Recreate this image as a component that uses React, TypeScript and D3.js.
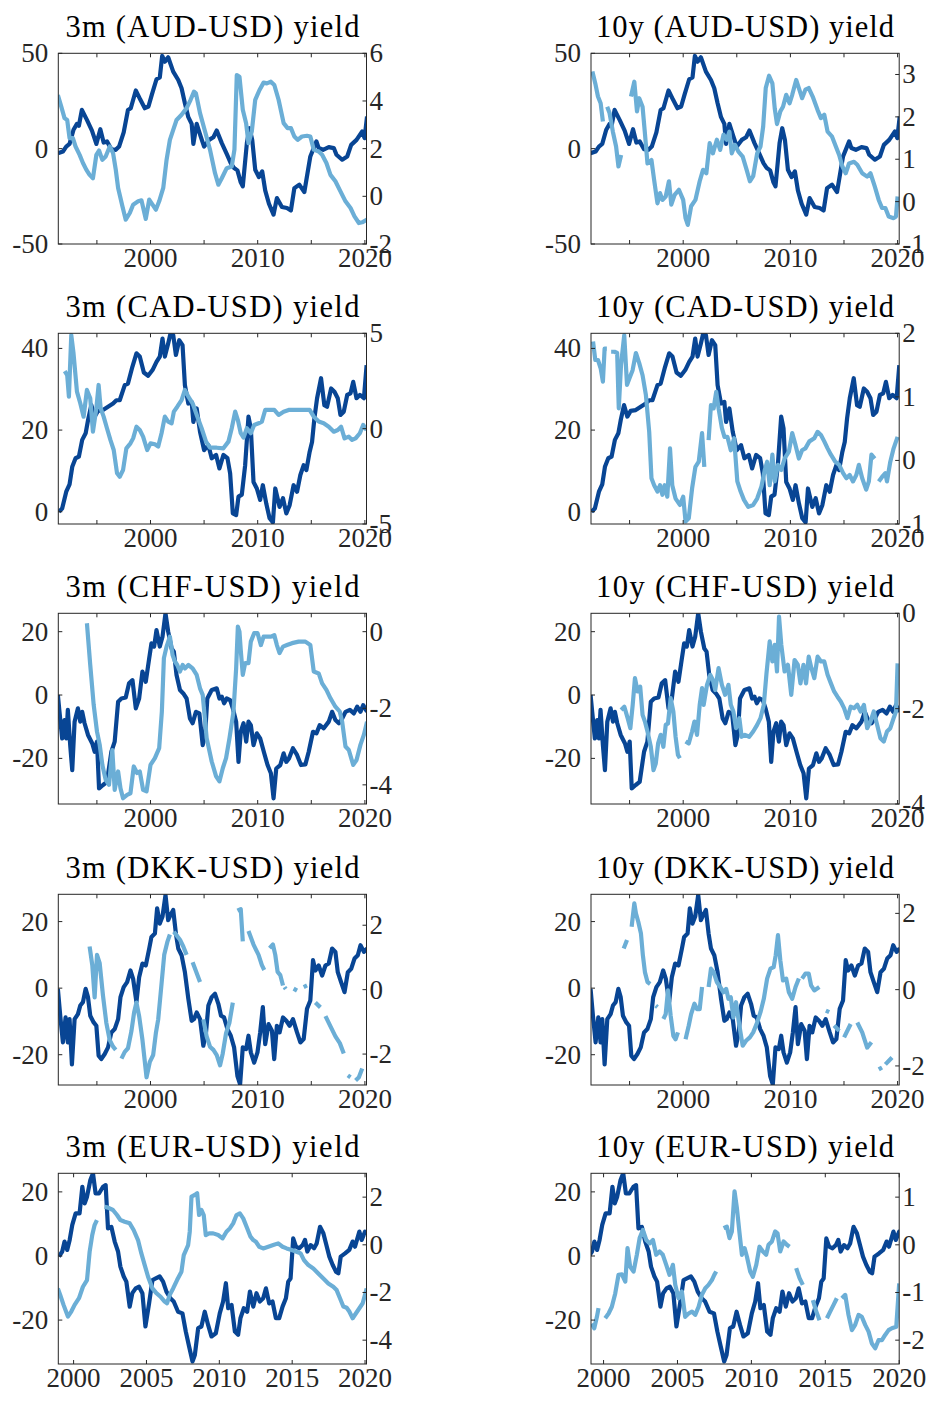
import React from 'react';
import * as d3 from 'd3';

type Pt = [number, number];
const BRK: Pt = [NaN, NaN];

// ---------- exchange-rate (left axis) series, shared by 3m and 10y panels ----------
const audFx: Pt[] = [[1991.36,-2.4],[1991.83,-1.5],[1992.14,1.1],[1992.45,2.5],[1992.82,9.9],[1993.14,13],[1993.32,12],[1993.6,20.3],[1994.07,15.1],[1994.54,9.5],[1994.95,2.5],[1995.32,10.2],[1995.63,3.2],[1995.94,3.8],[1996.35,-0.3],[1996.76,-0.6],[1997.07,1.1],[1997.5,8.5],[1997.9,20.3],[1998.16,21.2],[1998.63,30.5],[1999.06,25.6],[1999.47,21.2],[1999.81,22.1],[2000.12,28.2],[2000.56,36.4],[2000.87,37.4],[2001.09,48.6],[2001.34,45.6],[2001.65,47.9],[2002.12,40.4],[2002.59,36],[2002.9,31.7],[2003.21,23.8],[2003.53,16.5],[2003.84,13],[2004,2.5],[2004.31,13],[2004.68,6.4],[2005,1.1],[2005.46,4.6],[2005.87,6],[2006.18,9.5],[2006.65,2.9],[2007.11,-2.7],[2007.49,-7.6],[2007.8,-10.2],[2008.11,-11.4],[2008.42,-17.7],[2008.61,-19.8],[2008.99,2.9],[2009.24,10.7],[2009.49,4.6],[2009.77,-11.1],[2010.11,-14.9],[2010.42,-11.9],[2010.7,-21.9],[2011.05,-28.9],[2011.48,-34.6],[2011.79,-25.9],[2012.26,-30.6],[2012.73,-31.1],[2013.1,-32.4],[2013.42,-20.7],[2013.88,-18.9],[2014.35,-22.8],[2014.91,-4.1],[2015.48,3.8],[2015.69,0.3],[2016.1,-0.6],[2016.63,0.8],[2017.1,0.3],[2017.35,-3.2],[2017.88,-5.8],[2018.35,-4.1],[2018.72,2],[2019.22,4.6],[2019.75,9],[2019.97,5.5],[2020.2,16.8]];

const cadFx: Pt[] = [[1991.45,0],[1991.76,0.8],[1992.14,4.9],[1992.45,6.7],[1992.7,11],[1993.01,13.1],[1993.32,13.5],[1993.63,17.6],[1993.95,19.2],[1994.17,22.4],[1994.48,26.1],[1994.79,23.3],[1995.1,24.7],[1995.57,24.9],[1996.04,25.7],[1996.51,26.5],[1996.82,27.3],[1997.13,27.3],[1997.6,31],[1997.9,31.4],[1998.31,35.5],[1998.69,38.8],[1999,38],[1999.38,34.1],[1999.78,33.3],[2000.19,34.7],[2000.56,36.7],[2000.87,38],[2001.12,42.4],[2001.34,38],[2001.65,41.2],[2001.87,43.7],[2002.12,43.3],[2002.37,38.4],[2002.68,42],[2002.99,40.8],[2003.21,31],[2003.53,26.5],[2003.84,26.9],[2004,22],[2004.31,25.3],[2004.62,19.6],[2005,15.1],[2005.4,16.3],[2005.71,13.1],[2006.12,13.9],[2006.43,10.6],[2006.8,13.9],[2007.18,13.1],[2007.43,9.4],[2007.68,-0.4],[2007.99,-0.8],[2008.21,3.7],[2008.52,4.2],[2008.83,11.4],[2009.14,23.3],[2009.36,20.4],[2009.61,7.3],[2009.92,5.7],[2010.23,2.9],[2010.48,6.5],[2010.8,2],[2011.11,-1.6],[2011.42,-2.6],[2011.64,5.7],[2012.04,1.2],[2012.36,3.3],[2012.67,-0.4],[2012.98,1.6],[2013.35,6.5],[2013.67,4.9],[2013.98,9],[2014.29,11.4],[2014.54,10.2],[2014.85,14.7],[2015.07,17.1],[2015.29,22.9],[2015.54,27.8],[2015.91,32.7],[2016.22,26.1],[2016.47,25.7],[2016.85,30.2],[2017.16,29.4],[2017.47,27.8],[2017.72,23.7],[2018.03,24.5],[2018.35,28.6],[2018.66,29],[2018.91,31.8],[2019.22,27.8],[2019.53,28.6],[2019.91,27.8],[2020.16,35.9]];

const chfFx: Pt[] = [[1991.36,0],[1991.51,-5.3],[1991.76,-13.7],[1991.98,-7.9],[1992.14,-13.7],[1992.29,-4.7],[1992.51,-15.8],[1992.7,-23.7],[1992.92,-8.4],[1993.23,-4.2],[1993.45,-8.4],[1993.63,-5.3],[1993.85,-8.9],[1994.17,-12.6],[1994.57,-15.3],[1994.79,-17.9],[1995.01,-14.7],[1995.2,-29.5],[1995.57,-28.4],[1995.94,-27.4],[1996.35,-17.9],[1996.66,-14.7],[1996.98,-2.1],[1997.29,-1.1],[1997.69,-0.8],[1998,3.7],[1998.32,4.7],[1998.63,-4.2],[1998.94,-1.1],[1999.25,7.4],[1999.56,4.2],[1999.88,11.6],[2000.09,16.3],[2000.34,15.3],[2000.56,20.5],[2000.87,15.3],[2001.12,18.4],[2001.4,25.8],[2001.65,20],[2001.97,14.7],[2002.18,13.7],[2002.43,6.3],[2002.75,1.6],[2003.06,0.5],[2003.37,-1.1],[2003.68,-7.4],[2003.93,-8.9],[2004.24,-5.3],[2004.56,-5.8],[2004.87,-15.8],[2005.09,-12.6],[2005.3,-1.1],[2005.71,1.6],[2006.18,2.1],[2006.43,-1.1],[2006.65,-0.5],[2006.87,-2.6],[2007.11,-1.1],[2007.43,-1.6],[2007.68,-4.2],[2007.99,-8.4],[2008.21,-21.1],[2008.42,-11.6],[2008.68,-8.9],[2008.93,-14.7],[2009.14,-8.4],[2009.36,-9.5],[2009.61,-15.8],[2009.92,-12.1],[2010.23,-13.7],[2010.61,-18.4],[2010.92,-22.1],[2011.23,-24.7],[2011.48,-32.6],[2011.73,-23.2],[2012.11,-22.1],[2012.42,-18.4],[2012.67,-21.1],[2012.92,-20],[2013.29,-16.8],[2013.67,-18.9],[2014.04,-22.1],[2014.45,-21.9],[2014.76,-17.9],[2015.16,-11.6],[2015.48,-12.1],[2015.79,-9.5],[2016.16,-10.5],[2016.63,-8.4],[2016.94,-5.3],[2017.25,-7.9],[2017.57,-8.9],[2017.88,-7.4],[2018.19,-5.3],[2018.6,-4.7],[2018.97,-5.8],[2019.28,-3.7],[2019.59,-5.3],[2019.84,-3.2],[2020.2,-5.3]];

const dkkFx: Pt[] = [[1991.36,-0.2],[1991.58,-8.3],[1991.83,-16.3],[1992.08,-8.8],[1992.29,-16.3],[1992.45,-9.3],[1992.67,-22.9],[1992.92,-9.3],[1993.23,-7.8],[1993.45,-5.2],[1993.7,-4.2],[1993.95,-0.2],[1994.17,-2.7],[1994.38,-8.3],[1994.7,-10.3],[1994.95,-11.3],[1995.16,-20.3],[1995.41,-21.3],[1995.73,-19.8],[1996.04,-17.8],[1996.35,-13.3],[1996.66,-12.3],[1996.98,-9.3],[1997.2,-2.7],[1997.5,0.3],[1997.82,1.8],[1998.13,5.3],[1998.38,2.8],[1998.69,-4.2],[1998.94,3.3],[1999.25,7.4],[1999.56,6.8],[1999.88,11.9],[2000.09,15.4],[2000.41,16.4],[2000.62,24],[2000.87,19.4],[2001.12,21.5],[2001.4,28],[2001.65,20.4],[2001.87,22],[2002.12,23.5],[2002.37,16.4],[2002.59,11.9],[2002.9,9.9],[2003.21,4.8],[2003.53,-3.2],[2003.84,-9.8],[2004.06,-9.3],[2004.31,-7.3],[2004.62,-9.3],[2004.93,-17.3],[2005.18,-13.3],[2005.4,-5.2],[2005.71,-2.7],[2006.02,-1.7],[2006.33,-4.7],[2006.58,-8.3],[2006.86,-8.8],[2007.18,-12.3],[2007.49,-14.3],[2007.8,-17.8],[2008.11,-26.4],[2008.36,-28.9],[2008.61,-17.8],[2008.92,-18.3],[2009.14,-14.3],[2009.36,-19.3],[2009.67,-22.4],[2009.98,-19.3],[2010.23,-13.3],[2010.48,-5.7],[2010.7,-16.8],[2011.01,-10.8],[2011.33,-12.8],[2011.54,-21.3],[2011.79,-11.3],[2012.04,-13.3],[2012.36,-8.8],[2012.67,-9.8],[2012.98,-11.3],[2013.29,-9.3],[2013.67,-13.3],[2013.98,-16.3],[2014.29,-15.3],[2014.6,-6.2],[2014.91,-3.7],[2015.16,8.4],[2015.38,5.3],[2015.69,6.8],[2016.01,3.8],[2016.32,6.8],[2016.63,7.4],[2016.94,11.9],[2017.25,10.9],[2017.47,4.8],[2017.78,1.8],[2018.1,-1.2],[2018.41,4.8],[2018.72,5.8],[2019.03,8.9],[2019.34,9.9],[2019.59,12.9],[2019.91,10.9],[2020.2,11.9]];

const eurFx: Pt[] = [[1998.99,-0.2],[1999.22,1.4],[1999.38,4.5],[1999.56,1.9],[1999.73,5],[1999.91,9.7],[2000.14,13.3],[2000.41,13.3],[2000.6,21.6],[2000.76,16.4],[2000.92,18.5],[2001.15,23.7],[2001.33,25.8],[2001.51,19.5],[2001.74,19.5],[2002.02,21.6],[2002.2,22.1],[2002.36,8.6],[2002.59,9.1],[2002.82,4.5],[2003.05,1.4],[2003.21,-3.3],[2003.44,-6.4],[2003.62,-8],[2003.85,-15.8],[2004.03,-11.6],[2004.26,-10.1],[2004.49,-9.6],[2004.72,-11.6],[2004.93,-22],[2005.18,-14.8],[2005.41,-7.5],[2005.64,-7],[2005.91,-6.4],[2006.14,-8],[2006.37,-11.1],[2006.64,-13.2],[2006.87,-14.2],[2007.17,-17.4],[2007.47,-17.9],[2007.7,-23.6],[2007.93,-28.3],[2008.16,-32.9],[2008.32,-30.9],[2008.55,-22.5],[2008.77,-22],[2009,-17.4],[2009.23,-21.5],[2009.46,-25.1],[2009.76,-24.1],[2010.03,-17.9],[2010.26,-14.2],[2010.45,-8.5],[2010.61,-16.3],[2010.84,-15.3],[2011.07,-23.6],[2011.29,-24.6],[2011.45,-19.4],[2011.68,-16.3],[2011.91,-17.4],[2012.1,-11.1],[2012.33,-15.8],[2012.55,-11.6],[2012.78,-14.2],[2013.01,-13.2],[2013.2,-10.1],[2013.42,-14.8],[2013.65,-14.2],[2013.88,-19.4],[2014.11,-19.4],[2014.34,-15.8],[2014.57,-13.2],[2014.73,-8],[2014.89,-7],[2015.07,5.5],[2015.26,2.9],[2015.49,2.4],[2015.72,3.4],[2015.88,5],[2016.04,1.4],[2016.27,3.4],[2016.5,2.4],[2016.68,3.9],[2016.91,9.1],[2017.14,7.1],[2017.32,3.9],[2017.55,-0.2],[2017.78,-2.8],[2018.01,-4.9],[2018.17,-5.4],[2018.33,-0.2],[2018.63,0.8],[2018.92,1.9],[2019.15,4.5],[2019.31,2.9],[2019.61,7.6],[2019.77,5],[2020,7.6],[2020.11,6.5]];

// ---------- yield differentials (right axis) ----------
const aud3m: Pt[] = [[1991.36,4.25],[1991.67,3.77],[1991.98,3.28],[1992.23,3.2],[1992.45,2.44],[1992.76,2.44],[1993.01,2.09],[1993.39,1.74],[1993.7,1.4],[1994.01,1.12],[1994.32,0.9],[1994.63,0.76],[1994.95,1.74],[1995.2,1.92],[1995.51,1.53],[1995.82,1.67],[1996.2,2.09],[1996.51,1.81],[1996.76,1.12],[1996.98,0.35],[1997.38,-0.42],[1997.69,-0.98],[1998.07,-0.7],[1998.38,-0.35],[1998.85,-0.21],[1999.16,-0.17],[1999.56,-0.95],[1999.88,-0.14],[2000.19,-0.35],[2000.5,-0.56],[2000.81,-0.21],[2001.19,0.35],[2001.5,1.53],[2001.81,2.37],[2002.12,2.79],[2002.43,3.2],[2002.9,3.42],[2003.37,3.7],[2003.74,4.05],[2004.06,4.39],[2004.24,4.32],[2004.62,3.49],[2005.09,2.72],[2005.55,1.96],[2006.02,0.97],[2006.33,0.49],[2006.65,0.76],[2007.11,1.18],[2007.58,1.25],[2007.83,1.96],[2008.05,5.09],[2008.3,5.02],[2008.61,3.63],[2008.92,3.07],[2009.14,2.23],[2009.45,2.72],[2009.77,4.05],[2010.17,4.46],[2010.55,4.77],[2010.86,4.74],[2011.23,4.81],[2011.55,4.67],[2011.95,4.05],[2012.42,3.07],[2012.79,2.86],[2013.1,2.86],[2013.42,2.51],[2013.73,2.37],[2014.13,2.51],[2014.6,2.54],[2014.91,2.51],[2015.23,1.96],[2015.69,1.88],[2016.01,1.74],[2016.41,1.4],[2016.79,0.9],[2017.25,0.63],[2017.72,0.21],[2018.19,-0.21],[2018.66,-0.49],[2019.03,-0.84],[2019.44,-1.12],[2019.75,-1.09],[2020.2,-0.98]];

const aud10y: Pt[] = [[1991.53,3.07],[1991.8,2.79],[1992.05,2.48],[1992.3,2.32],[1992.51,1.89],BRK,[1992.91,2.24],[1993.13,2.09],[1993.44,1.65],[1993.74,1.3],[1993.96,0.83],[1994.21,1.1],BRK,[1995.13,2.48],[1995.44,2.83],[1995.69,2.13],[1995.9,2.44],[1996.21,2.24],[1996.43,1.61],[1996.67,0.9],[1997.04,0.98],[1997.29,0.51],[1997.6,-0.04],[1997.84,0.2],[1998.06,0.04],[1998.37,0.12],[1998.67,0.48],[1998.89,-0.07],[1999.2,0.16],[1999.6,0.28],[2000,0.04],[2000.22,-0.39],[2000.43,-0.55],[2000.74,-0.11],[2001.14,0.04],[2001.54,0.48],[2001.85,0.75],[2002.16,0.67],[2002.47,1.38],[2002.77,1.14],[2003.14,1.46],[2003.45,1.22],[2003.76,1.58],[2004.07,1.46],[2004.31,1.65],[2004.53,1.14],[2004.84,1.34],[2005.15,1.18],[2005.55,1.06],[2005.92,0.75],[2006.22,0.48],[2006.53,0.6],[2006.9,1.14],[2007.21,1.3],[2007.46,1.77],[2007.7,2.68],[2008.01,2.97],[2008.32,2.79],[2008.54,2.2],[2008.75,1.83],[2009.06,2.13],[2009.31,2.24],[2009.61,2.52],[2009.92,2.32],[2010.17,2.52],[2010.54,2.87],[2010.79,2.68],[2011.09,2.44],[2011.4,2.64],[2011.71,2.68],[2012.08,2.48],[2012.54,2.16],[2012.85,1.97],[2013.16,2.05],[2013.47,1.65],[2013.87,1.54],[2014.24,1.3],[2014.55,1.1],[2014.85,0.83],[2015.16,0.67],[2015.47,0.9],[2015.93,0.94],[2016.24,0.87],[2016.7,0.67],[2017.16,0.59],[2017.47,0.67],[2017.87,0.36],[2018.24,0.04],[2018.55,-0.15],[2018.86,-0.15],[2019.17,-0.35],[2019.63,-0.39],[2019.85,-0.35],[2020,0.12]];

const cad3m: Pt[] = [[1992,3.02],[1992.23,2.81],[1992.39,1.68],[1992.61,4.91],[1992.82,3.95],[1993.14,1.94],[1993.45,1.33],[1993.76,0.63],[1994.07,2.03],[1994.38,1.59],[1994.63,-0.16],[1994.95,1.07],[1995.16,2.29],[1995.35,1.07],[1995.63,0.63],[1995.94,0.02],[1996.26,-0.59],[1996.57,-1.12],[1996.88,-2.34],[1997.13,-2.52],[1997.44,-2.17],[1997.75,-1.03],[1998.13,-0.77],[1998.38,-0.51],[1998.69,0.1],[1999,-0.07],[1999.31,-0.42],[1999.69,-1.12],[2000,-0.77],[2000.41,-0.82],[2000.72,-0.94],[2001.03,-0.24],[2001.34,0.63],[2001.65,0.37],[2001.97,0.28],[2002.18,0.89],[2002.5,1.15],[2002.9,1.5],[2003.21,2.03],[2003.53,1.68],[2003.93,1.33],[2004.31,0.72],[2004.77,0.02],[2005.18,-0.68],[2005.55,-1],[2006.18,-1],[2006.8,-1.03],[2007.27,-0.68],[2007.58,0.02],[2007.9,0.89],[2008.15,0.45],[2008.42,-0.24],[2008.68,-0.47],[2008.99,0.02],[2009.36,-0.24],[2009.67,0.19],[2010.08,0.28],[2010.39,0.37],[2010.7,0.98],[2011.11,0.98],[2011.55,0.98],[2011.95,0.72],[2012.42,0.89],[2012.89,0.98],[2013.67,0.98],[2014.29,0.98],[2014.85,0.98],[2015.23,0.63],[2015.69,0.37],[2016.16,0.28],[2016.63,0.1],[2017.1,-0.16],[2017.47,-0.07],[2017.78,0.1],[2018.1,-0.51],[2018.5,-0.42],[2018.81,-0.59],[2019.13,-0.51],[2019.53,-0.24],[2019.84,0.19],[2020.16,-0.07]];

const cad10y: Pt[] = [[1991.59,1.87],[1991.8,1.58],[1992.05,1.58],[1992.3,1.45],[1992.51,1.24],[1992.67,1.76],[1992.88,1.76],BRK,[1993.28,1.71],[1993.59,1.71],[1993.84,1.69],[1993.99,0.82],[1994.2,1.5],[1994.5,1.97],[1994.76,1.19],[1994.98,1.29],[1995.28,1.42],[1995.59,1.69],[1995.9,1.53],[1996.21,1.34],[1996.52,1.03],[1996.83,0.45],[1997.04,-0.28],[1997.29,-0.39],[1997.6,-0.49],[1997.84,-0.39],[1998.06,-0.54],[1998.27,-0.39],[1998.52,-0.57],[1998.77,0.19],[1998.98,-0.39],[1999.29,-0.6],[1999.69,-0.7],[2000,-0.57],[2000.22,-0.96],[2000.52,-0.91],[2000.83,-0.44],[2001.14,-0.1],[2001.45,-0.02],[2001.76,0.43],[2001.97,-0.1],BRK,[2002.37,0.32],[2002.59,0.87],[2002.84,0.82],[2003.08,1.08],[2003.3,0.82],[2003.61,0.51],[2003.85,0.37],[2004.13,0.37],[2004.44,0.16],[2004.75,0.35],[2005.05,-0.33],[2005.36,-0.49],[2005.67,-0.62],[2006.07,-0.73],[2006.53,-0.7],[2006.9,-0.6],[2007.3,-0.41],[2007.61,-0.15],[2007.83,-0.02],[2008.07,-0.39],[2008.32,0.09],[2008.54,-0.33],[2008.84,-0.07],[2009.15,-0.15],[2009.46,0.03],[2009.86,0.14],[2010.17,0.43],[2010.48,0.24],[2010.79,0.03],[2011.09,0.16],[2011.4,0.19],[2011.77,0.3],[2012.23,0.35],[2012.54,0.45],[2012.85,0.4],[2013.16,0.3],[2013.47,0.19],[2013.78,0.09],[2014.18,-0.02],[2014.55,-0.07],[2014.92,-0.2],[2015.22,-0.28],[2015.53,-0.23],[2015.84,-0.33],[2016.15,-0.23],[2016.39,-0.07],[2016.7,-0.28],[2017.07,-0.46],[2017.32,-0.33],[2017.56,0.09],[2017.87,0.03],BRK,[2018.24,-0.33],[2018.55,-0.26],[2018.86,-0.2],[2019.01,-0.33],[2019.32,-0.02],[2019.63,0.19],[2020,0.37]];

const chf3m: Pt[] = [[1994.07,0.22],[1994.38,-0.87],[1994.7,-1.91],[1995.01,-2.61],[1995.26,-2.95],[1995.51,-3.48],[1995.82,-3.87],[1996.13,-4],[1996.44,-3.09],[1996.66,-4.13],[1996.98,-3.65],[1997.2,-4.09],[1997.44,-4.35],[1997.82,-4.26],[1998.13,-4.22],[1998.44,-3.52],[1998.75,-3.69],[1999,-3.65],[1999.31,-4.13],[1999.63,-4.17],[2000,-3.48],[2000.41,-3.3],[2000.81,-3.04],[2001.06,-2.09],[2001.25,-0.69],[2001.5,-0.39],[2001.81,-0.13],[2002.06,-0.61],[2002.28,-0.78],[2002.5,-0.87],[2002.75,-1.04],[2003,-0.87],[2003.21,-0.96],[2003.53,-0.87],[2003.93,-0.96],[2004.31,-1.13],[2004.62,-1.48],[2004.87,-1.65],[2005.24,-2.78],[2005.71,-3.39],[2006.12,-3.78],[2006.43,-3.91],[2006.75,-3.56],[2007.05,-3.3],[2007.37,-2.78],[2007.74,-2.09],[2007.99,-0.96],[2008.15,0.13],[2008.3,0],[2008.42,-0.48],[2008.61,-1.13],[2008.83,-0.82],[2009.14,-0.82],[2009.36,-0.26],[2009.67,-0.04],[2009.99,-0.04],[2010.3,-0.35],[2010.55,-0.13],[2010.86,-0.13],[2011.23,-0.13],[2011.55,-0.09],[2011.79,-0.35],[2012.04,-0.56],[2012.36,-0.39],[2012.73,-0.35],[2013.2,-0.3],[2013.82,-0.26],[2014.45,-0.26],[2014.91,-0.35],[2015.23,-1.04],[2015.69,-1.09],[2016.01,-1.35],[2016.41,-1.52],[2016.79,-1.74],[2017.25,-1.96],[2017.66,-2.09],[2017.88,-2.35],[2018.19,-3],[2018.5,-3.09],[2018.91,-3.48],[2019.22,-3.35],[2019.59,-2.95],[2019.91,-2.69],[2020.2,-2.35]];

const chf10y: Pt[] = [[1994.21,-2.03],[1994.51,-1.96],[1994.82,-2.2],[1995.07,-2.41],[1995.29,-1.92],[1995.5,-1.36],[1995.75,-1.64],[1995.99,-1.54],[1996.21,-2.13],[1996.43,-2.27],[1996.67,-2.48],[1996.98,-2.8],[1997.23,-3.29],[1997.44,-3.15],[1997.66,-2.73],[1997.9,-2.55],[1998.15,-2.8],[1998.37,-2.34],[1998.58,-2.31],[1998.83,-1.78],[1999.08,-2.06],[1999.29,-2.59],[1999.51,-2.97],[1999.69,-3.04],BRK,[2000.22,-2.69],[2000.52,-2.73],[2000.83,-2.48],[2001.05,-2.27],[2001.29,-2.55],[2001.54,-1.92],[2001.76,-1.57],[2001.91,-1.92],[2002.22,-1.5],[2002.53,-1.29],[2002.77,-1.4],[2002.99,-1.61],[2003.3,-1.15],[2003.61,-1.5],[2003.91,-1.71],[2004.22,-1.5],[2004.44,-1.92],[2004.68,-2.06],[2004.93,-2.41],[2005.24,-2.2],[2005.45,-2.59],[2005.76,-2.55],[2006.16,-2.59],[2006.53,-2.48],[2006.9,-2.34],[2007.21,-2.2],[2007.52,-1.92],[2007.77,-1.26],[2008.07,-0.59],[2008.32,-1.01],[2008.54,-0.66],[2008.75,-1.22],[2008.94,-0.07],[2009.15,-0.66],[2009.46,-1.22],[2009.77,-1.08],[2010.08,-1.71],[2010.39,-0.98],[2010.69,-1.08],[2010.94,-1.47],[2011.22,-1.08],[2011.46,-1.47],[2011.71,-0.91],[2011.96,-1.15],[2012.23,-1.36],[2012.54,-0.91],[2012.85,-1.01],[2013.16,-1.01],[2013.47,-1.29],[2013.78,-1.47],[2014.08,-1.64],[2014.39,-1.75],[2014.7,-1.85],[2015.01,-1.99],[2015.32,-2.2],[2015.62,-1.96],[2015.93,-1.99],[2016.24,-1.92],[2016.55,-2.06],[2016.86,-1.92],[2017.16,-2.41],[2017.47,-2.27],[2017.78,-2.06],[2018.09,-2.34],[2018.4,-2.62],[2018.71,-2.69],[2019.01,-2.48],[2019.32,-2.41],[2019.63,-2.2],[2019.85,-2.06],[2020,-1.05]];

const dkk3m: Pt[] = [[1994.32,1.34],[1994.57,0.76],[1994.79,-0.24],[1995.01,1.08],[1995.26,0.82],[1995.57,-0.19],[1995.88,-1.03],[1996.19,-1.56],[1996.51,-1.77],[1996.76,-1.87],BRK,[1997.29,-2.14],[1997.6,-1.93],[1997.9,-1.82],[1998.22,-1.29],[1998.47,-0.71],[1998.69,-0.4],[1998.94,-0.82],[1999.25,-1.56],[1999.63,-2.72],[1999.94,-2.24],[2000.25,-2.03],[2000.5,-1.35],[2000.72,-0.92],[2001.03,0.18],[2001.28,1.08],[2001.59,1.5],[2001.81,1.71],BRK,[2002.18,1.8],[2002.5,1.66],[2002.75,1.55],[2003.06,1.34],[2003.37,1.08],BRK,[2003.93,0.85],[2004.62,0.24],BRK,[2004.93,-0.92],[2005.24,-1.45],[2005.55,-1.77],[2005.87,-1.87],[2006.18,-2.03],[2006.49,-2.35],[2006.74,-1.98],[2007.05,-1.35],[2007.36,-1.03],[2007.68,-0.4],BRK,[2008.11,2.45],[2008.42,2.5],[2008.61,1.5],BRK,[2009.14,1.82],[2009.61,1.4],[2010.08,1.08],[2010.39,0.76],[2010.61,0.61],BRK,[2011.11,1.29],[2011.42,1.4],[2011.64,1.08],[2011.86,0.55],[2012.11,0.45],[2012.36,0.13],BRK,[2012.5,0.08],[2012.62,0.02],BRK,[2013.35,0.03],[2013.67,-0.03],BRK,[2014.29,0.08],[2014.6,0.13],BRK,[2015.38,-0.4],[2015.85,-0.55],BRK,[2016.32,-0.82],[2016.79,-1.14],[2017.25,-1.45],[2017.66,-1.66],[2018.03,-1.98],BRK,[2018.41,-2.66],[2018.66,-2.72],BRK,[2019.13,-2.82],[2019.44,-2.72],[2019.75,-2.45]];

const dkk10y: Pt[] = [[1994.45,1.08],[1994.76,1.3],BRK,[1995.19,1.65],[1995.44,2.26],[1995.59,2],[1995.81,1.78],[1996.06,1.47],[1996.24,0.9],[1996.43,0.46],[1996.67,0.2],[1996.92,0.15],BRK,[1997.44,-0.42],[1997.6,-0.46],BRK,[1998.15,-0.77],[1998.37,-0.64],[1998.58,-0.02],[1998.83,-0.68],[1999.08,-1.21],[1999.29,-1.3],[1999.51,-1.12],BRK,[2000.22,-1.3],[2000.52,-0.94],[2000.74,-0.64],[2001.05,-0.37],[2001.29,-0.51],[2001.54,-0.51],[2001.76,0.07],BRK,[2002.37,0.07],[2002.59,0.55],[2002.84,0.46],[2003.14,0.2],[2003.45,0.07],[2003.76,-0.07],[2004.01,0.02],[2004.22,-0.24],[2004.44,-0.2],[2004.68,-0.73],[2004.93,-0.33],[2005.24,-0.94],[2005.55,-1.47],[2005.86,-1.34],[2006.22,-1.25],[2006.53,-1.12],[2006.9,-0.86],[2007.21,-0.59],[2007.52,-0.24],[2007.83,0.29],[2008.14,0.55],[2008.44,0.59],[2008.63,0.9],[2008.84,1.43],[2009.06,0.77],[2009.31,0.24],[2009.61,0.29],[2009.86,-0.07],[2010.17,-0.24],[2010.48,0.07],[2010.79,0.29],BRK,[2011.09,0.29],[2011.4,0.42],[2011.71,0.42],[2011.93,0.11],[2012.23,-0.02],[2012.7,0.07],BRK,[2013.31,-0.55],[2013.62,-0.59],BRK,[2014.08,-0.94],[2014.55,-1.08],BRK,[2015.01,-1.25],[2015.62,-0.9],BRK,[2016.24,-0.86],[2016.7,-1.12],[2017.16,-1.52],[2017.56,-1.38],BRK,[2018.24,-2.09],[2018.55,-2.04],BRK,[2018.86,-1.96],[2019.48,-1.78]];

const eur3m: Pt[] = [[1998.92,-1.83],[1999.08,-2.1],[1999.31,-2.52],[1999.61,-3.01],[1999.84,-2.8],[2000.07,-2.52],[2000.37,-2.24],[2000.64,-1.76],[2000.92,-1.48],[2001.1,-0.29],[2001.28,0.41],[2001.44,0.83],[2001.6,1.04],BRK,[2002.13,1.6],[2002.36,1.56],[2002.7,1.46],[2002.98,1.25],[2003.21,1.04],[2003.51,0.97],[2003.85,0.9],[2004.12,0.62],[2004.42,0.2],[2004.65,-0.36],[2004.88,-0.85],[2005.11,-1.34],[2005.41,-1.83],[2005.68,-2.03],[2005.96,-2.17],[2006.25,-2.38],[2006.41,-2.45],[2006.6,-2.1],[2006.83,-1.83],[2007.1,-1.48],[2007.4,-1.13],[2007.56,-0.43],[2007.86,-0.01],[2007.97,0.55],[2008.09,2.02],[2008.32,2.09],[2008.48,2.16],[2008.61,1.25],[2008.77,1.46],[2008.93,1.25],[2009.07,0.41],[2009.3,0.48],[2009.58,0.48],[2009.92,0.41],[2010.22,0.27],[2010.49,0.55],[2010.72,0.69],[2010.95,0.9],[2011.18,1.25],[2011.41,1.32],[2011.64,1.11],[2011.87,0.76],[2012.14,0.34],[2012.33,0.2],[2012.51,0.13],[2012.74,-0.08],[2013.01,-0.15],[2013.36,-0.08],[2013.7,-0.01],[2014.04,0.06],[2014.34,-0.08],[2014.62,-0.15],[2014.96,-0.22],[2015.3,-0.29],[2015.58,-0.36],[2015.81,-0.64],[2016.11,-0.85],[2016.45,-0.99],[2016.79,-1.2],[2017.14,-1.41],[2017.48,-1.62],[2017.82,-1.76],[2018.05,-1.9],[2018.28,-2.24],[2018.51,-2.59],[2018.74,-2.64],[2018.92,-2.8],[2019.15,-3.08],[2019.38,-2.87],[2019.61,-2.66],[2019.84,-2.45],[2020.11,-1.83]];

const eur10y: Pt[] = [[1999.21,-1.65],[1999.37,-1.75],[1999.55,-1.51],[1999.66,-1.33],BRK,[2000.11,-1.54],[2000.34,-1.44],[2000.56,-1.3],[2000.79,-1.02],[2001.01,-0.63],[2001.24,-0.62],[2001.47,-0.77],[2001.62,-0.07],[2001.8,-0.46],[2002.03,-0.56],[2002.25,-0.21],[2002.44,0.14],[2002.66,0.31],[2002.89,0.1],[2003.11,0.03],[2003.34,0.1],[2003.56,-0.21],[2003.79,-0.14],[2004.01,-0.21],[2004.24,-0.42],[2004.46,-0.63],[2004.69,-0.42],[2004.85,-0.84],[2005.07,-1.12],[2005.3,-0.98],[2005.52,-1.51],[2005.75,-1.44],[2005.98,-1.4],[2006.2,-1.47],[2006.43,-1.3],[2006.65,-1.05],[2006.88,-0.91],[2007.1,-0.84],[2007.33,-0.74],[2007.49,-0.63],[2007.62,-0.56],BRK,[2008.12,0.35],[2008.34,0.38],[2008.52,0.14],[2008.68,0.28],[2008.86,1.12],[2009.02,0.77],[2009.2,0.24],[2009.36,-0.21],[2009.54,-0.07],[2009.7,-0.25],[2009.92,-0.56],[2010.1,-0.67],[2010.33,-0.42],[2010.55,-0.04],[2010.78,-0.14],[2011,-0.21],[2011.16,0],[2011.39,0.07],[2011.61,0.28],[2011.77,0.24],[2011.95,-0.14],[2012.18,0.07],[2012.4,0],[2012.58,-0.04],BRK,[2013.03,-0.49],[2013.26,-0.7],[2013.48,-0.84],BRK,[2014.16,-1.16],[2014.39,-1.4],[2014.61,-1.58],BRK,[2015.11,-1.54],[2015.33,-1.4],[2015.56,-1.26],[2015.78,-1.12],BRK,[2016.12,-1.12],[2016.35,-1.05],[2016.57,-1.47],[2016.8,-1.79],[2017.02,-1.68],[2017.25,-1.47],[2017.47,-1.51],[2017.7,-1.68],[2017.93,-1.82],[2018.15,-2.07],[2018.38,-2.17],[2018.6,-2],[2018.83,-2],[2019.05,-1.89],[2019.28,-1.79],[2019.5,-1.75],[2019.8,-1.72],[2020,-0.81]];

// ---------- axis ticks ----------
const xTicksLong = [1995, 2000, 2005, 2010, 2015, 2020];
const xLabelsLong = [2000, 2010, 2020];
const xTicksEur = [2000, 2005, 2010, 2015, 2020];
const xLabelsEur = [2000, 2005, 2010, 2015, 2020];

const titles = [
  '3m (AUD-USD) yield', '10y (AUD-USD) yield',
  '3m (CAD-USD) yield', '10y (CAD-USD) yield',
  '3m (CHF-USD) yield', '10y (CHF-USD) yield',
  '3m (DKK-USD) yield', '10y (DKK-USD) yield',
  '3m (EUR-USD) yield', '10y (EUR-USD) yield',
];

const darkSeries = [audFx, cadFx, chfFx, dkkFx, eurFx];
const lightSeries = [aud3m, aud10y, cad3m, cad10y, chf3m, chf10y, dkk3m, dkk10y, eur3m, eur10y];

const leftDomains: [number, number][] = [[-50, 50], [-3, 43.7], [-34.4, 25.8], [-29.1, 28.2], [-33.7, 25.8]];
const leftTicks = [[-50, 0, 50], [0, 20, 40], [-20, 0, 20], [-20, 0, 20], [-20, 0, 20]];

const rightDomains: [number, number][] = [
  [-2, 6], [-1, 3.5],
  [-5, 5], [-1, 2],
  [-4.5, 0.48], [-4, 0],
  [-2.96, 2.96], [-2.5, 2.5],
  [-5, 3], [-2.5, 1.5],
];
const rightTicks = [
  [-2, 0, 2, 4, 6], [-1, 0, 1, 2, 3],
  [-5, 0, 5], [-1, 0, 1, 2],
  [-4, -2, 0], [-4, -2, 0],
  [-2, 0, 2], [-2, 0, 2],
  [-4, -2, 0, 2], [-2, -1, 0, 1],
];

// ---------- layout ----------
const COL_X = [58.3, 591];
const PW = 308.2;
const ROW_Y = [53.3, 333.3, 613.3, 894.3, 1173.3];
const PH = 190.7;
const DARK = '#084594';
const LIGHT = '#6baed6';
const AXIS = '#262626';
const FONT = '"Liberation Serif", "Times New Roman", serif';
const TICK_FS = 27;
const TITLE_FS = 30.5;

function Panel({ idx }: { idx: number }) {
  const row = Math.floor(idx / 2);
  const col = idx % 2;
  const x0 = COL_X[col];
  const y0 = ROW_Y[row];
  const isEur = row === 4;
  const xDom: [number, number] = isEur ? (col === 0 ? [1998.95, 2020.1] : [1999.15, 2020.0]) : [1991.4, 2020.15];
  const x = d3.scaleLinear().domain(xDom).range([x0, x0 + PW]);
  const yL = d3.scaleLinear().domain(leftDomains[row]).range([y0 + PH, y0]);
  const yR = d3.scaleLinear().domain(rightDomains[idx]).range([y0 + PH, y0]);
  const lineL = d3.line<Pt>().defined(d => !isNaN(d[1])).x(d => x(d[0])).y(d => yL(d[1]));
  const lineR = d3.line<Pt>().defined(d => !isNaN(d[1])).x(d => x(d[0])).y(d => yR(d[1]));
  const xt = isEur ? xTicksEur : xTicksLong;
  const xl = isEur ? xLabelsEur : xLabelsLong;
  const clipId = `clip-${idx}`;
  const TL = 4;
  const titleLen = col === 0 ? 294 : 298;
  return (
    <g>
      <defs>
        <clipPath id={clipId}>
          <rect x={x0} y={y0} width={PW} height={PH} />
        </clipPath>
      </defs>
      <text x={x0 + PW / 2} y={y0 - 16.5} textAnchor="middle" fontSize={TITLE_FS} fontFamily={FONT}
        fill="#000" textLength={titleLen} lengthAdjust="spacing">{titles[idx]}</text>
      <g clipPath={`url(#${clipId})`}>
        <path d={lineL(darkSeries[row]) || ''} fill="none" stroke={DARK} strokeWidth={4.2} strokeLinejoin="round" strokeLinecap="butt" />
        <path d={lineR(lightSeries[idx]) || ''} fill="none" stroke={LIGHT} strokeWidth={4.2} strokeLinejoin="round" strokeLinecap="butt" />
      </g>
      <rect x={x0} y={y0} width={PW} height={PH} fill="none" stroke={AXIS} strokeWidth={1} />
      {xt.map(t => (
        <g key={`xt${t}`}>
          <line x1={x(t)} x2={x(t)} y1={y0 + PH} y2={y0 + PH - TL} stroke={AXIS} strokeWidth={1} />
          <line x1={x(t)} x2={x(t)} y1={y0} y2={y0 + TL} stroke={AXIS} strokeWidth={1} />
        </g>
      ))}
      {xl.map(t => (
        <text key={`xl${t}`} x={x(t)} y={y0 + PH + 22.5} textAnchor="middle" fontSize={TICK_FS} fontFamily={FONT} fill="#262626">{t}</text>
      ))}
      {leftTicks[row].map(t => (
        <g key={`lt${t}`}>
          <line x1={x0} x2={x0 + TL} y1={yL(t)} y2={yL(t)} stroke={AXIS} strokeWidth={1} />
          <text x={x0 - 10} y={yL(t) + 9} textAnchor="end" fontSize={TICK_FS} fontFamily={FONT} fill="#262626">{t}</text>
        </g>
      ))}
      {rightTicks[idx].map(t => (
        <g key={`rt${t}`}>
          <line x1={x0 + PW} x2={x0 + PW - TL} y1={yR(t)} y2={yR(t)} stroke={AXIS} strokeWidth={1} />
          <text x={x0 + PW + 3} y={yR(t) + 9} textAnchor="start" fontSize={TICK_FS} fontFamily={FONT} fill="#262626">{t}</text>
        </g>
      ))}
    </g>
  );
}

export default function App() {
  return (
    <svg width={934} height={1402} viewBox="0 0 934 1402"
      style={{ position: 'absolute', left: 0, top: 0, background: '#fff' }}>
      <rect x={0} y={0} width={934} height={1402} fill="#fff" />
      {titles.map((_, i) => <Panel key={i} idx={i} />)}
    </svg>
  );
}
